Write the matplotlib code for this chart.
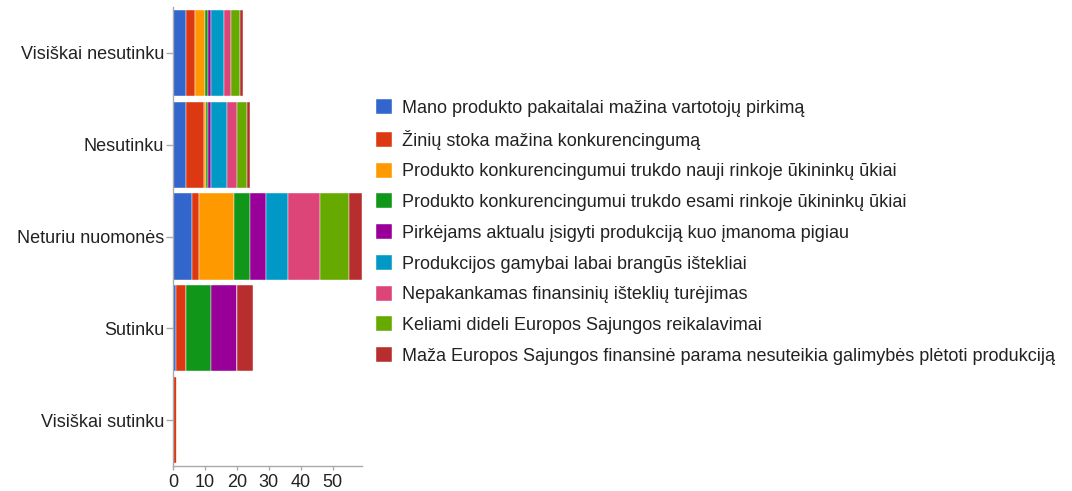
import matplotlib
matplotlib.use("Agg")
import matplotlib.pyplot as plt
import numpy as np

plt.rcParams['font.family'] = ['Liberation Sans', 'DejaVu Sans']

categories = ["Visiškai nesutinku", "Nesutinku", "Neturiu nuomonės", "Sutinku", "Visiškai sutinku"]

series_names = [
    "Mano produkto pakaitalai mažina vartotojų pirkimą",
    "Žinių stoka mažina konkurencingumą",
    "Produkto konkurencingumui trukdo nauji rinkoje ūkininkų ūkiai",
    "Produkto konkurencingumui trukdo esami rinkoje ūkininkų ūkiai",
    "Pirkėjams aktualu įsigyti produkciją kuo įmanoma pigiau",
    "Produkcijos gamybai labai brangūs ištekliai",
    "Nepakankamas finansinių išteklių turėjimas",
    "Keliami dideli Europos Sajungos reikalavimai",
    "Maža Europos Sajungos finansinė parama nesuteikia galimybės plėtoti produkciją",
]

# values per series, in category order
s_pakaitalai = [4, 4, 6, 1, 0]
s_ziniu      = [3, 5.7, 2, 3, 1.2]
s_nauji      = [3, 0.6, 11, 0, 0]
s_esami      = [1, 0.8, 5, 8, 0]
s_pigiau     = [1, 0.8, 5, 8, 0]
s_brangus    = [4, 4.9, 7, 0, 0]
s_finansiniu = [2, 3.1, 10, 0, 0]
s_es_reik    = [3, 3.2, 9, 0, 0]
s_es_parama  = [1, 0.9, 4, 5, 0]

series_values = [s_pakaitalai, s_ziniu, s_nauji, s_esami, s_pigiau,
                 s_brangus, s_finansiniu, s_es_reik, s_es_parama]

colors = ["#3366cc", "#dc3912", "#ff9900", "#109618", "#990099",
          "#0099c6", "#dd4477", "#66aa00", "#b82e2e"]

x_ticks = [0, 10, 20, 30, 40, 50]

W, H = 1072, 491
FS = 13
fig = plt.figure(figsize=(W / 100, H / 100), dpi=100)
ax = fig.add_axes([173 / W, 1 - 466 / H, (361.5 - 173) / W, (466 - 7) / H])

y = np.arange(len(categories))
left = np.zeros(len(categories))
handles = []
for name, vals, c in zip(series_names, series_values, colors):
    vals = np.array(vals, dtype=float)
    b = ax.barh(y, vals, left=left, height=0.94, color=c,
                edgecolor="#ffffff", linewidth=0.3, label=name)
    handles.append(b)
    left += vals

ax.set_ylim(len(categories) - 0.5, -0.5)
ax.set_xlim(0, 59)
ax.set_yticks(y)
ax.set_yticklabels(categories, fontsize=FS, color="#222222")
ax.set_xticks(x_ticks)
ax.set_xticklabels([str(t) for t in x_ticks], fontsize=FS, color="#222222")

for s in ["top", "right"]:
    ax.spines[s].set_visible(False)
for s in ["left", "bottom"]:
    ax.spines[s].set_color("#aaaaaa")
    ax.spines[s].set_linewidth(1.0)
ax.tick_params(axis="y", length=5, width=1, color="#aaaaaa", pad=1.5)
ax.tick_params(axis="x", length=3, width=1, color="#aaaaaa", pad=3)

fig.legend(handles=handles, labels=series_names, loc="upper left",
           bbox_to_anchor=(376 / W, 1 - 99 / H), frameon=False,
           fontsize=FS, handlelength=0.9, handleheight=0.9,
           handletextpad=0.55, labelspacing=0.72, borderpad=0,
           borderaxespad=0, labelcolor="#222222")

fig.savefig("out.png", dpi=100)
